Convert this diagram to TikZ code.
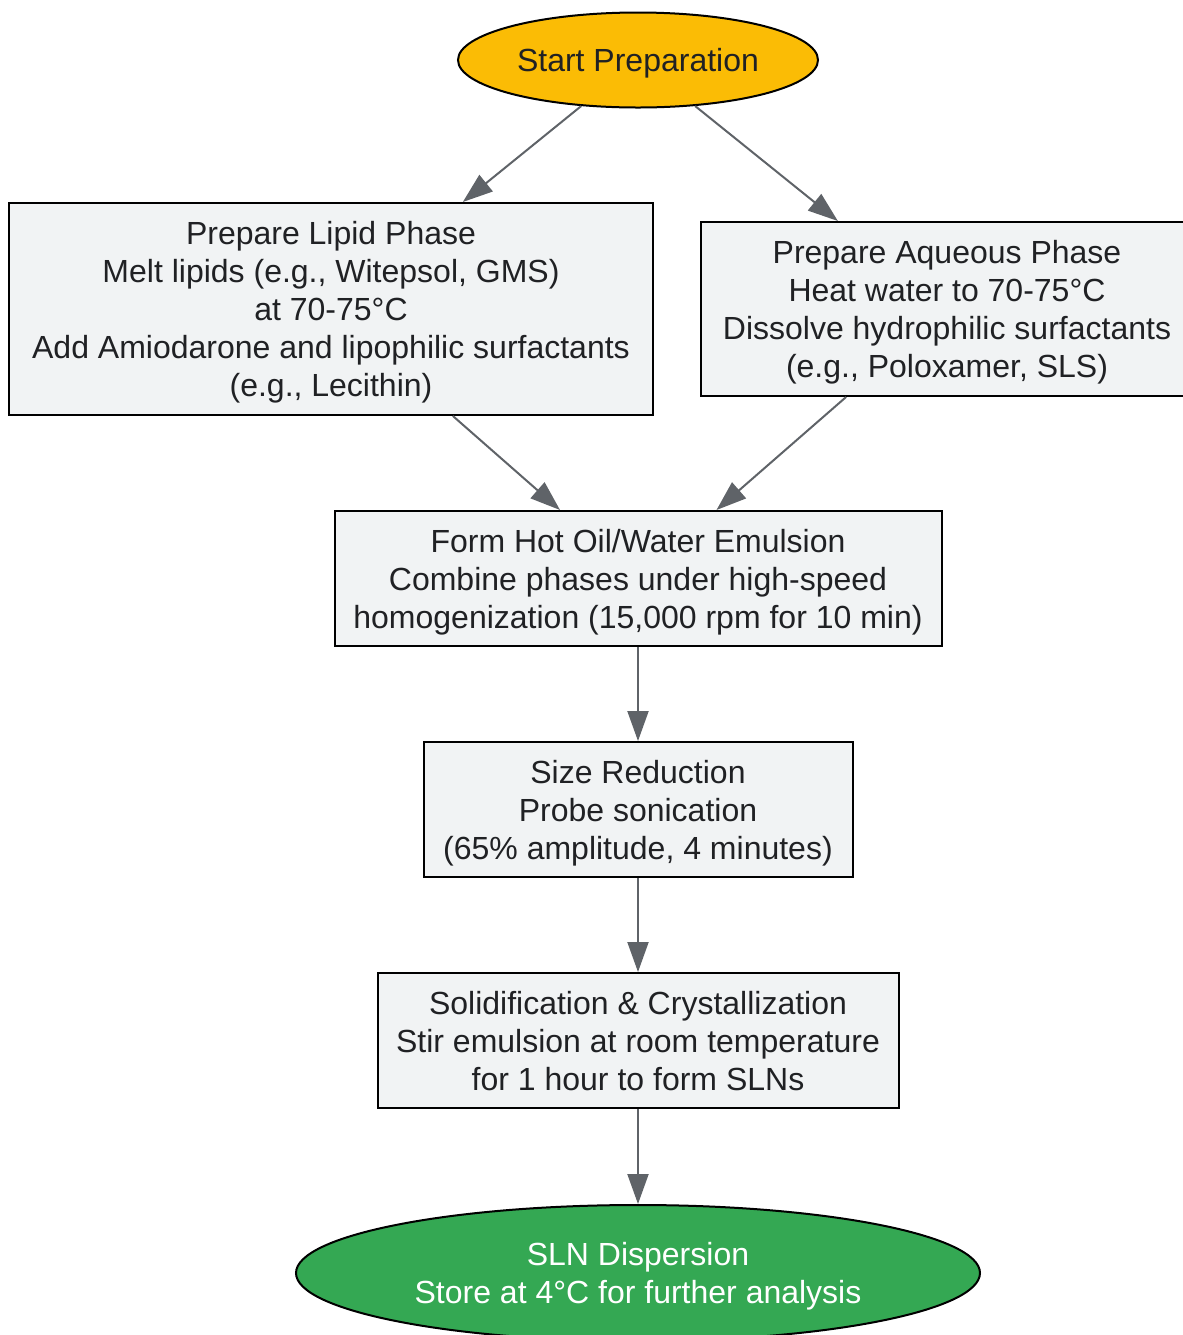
\documentclass[tikz,border=0pt]{standalone}
\usepackage{fontspec}
\setmainfont{Liberation Sans}
\usetikzlibrary{shapes.geometric,arrows.meta}
\definecolor{startyellow}{HTML}{FBBC05}
\definecolor{endgreen}{HTML}{34A853}
\definecolor{boxgrey}{HTML}{F1F3F4}
\definecolor{inkdark}{HTML}{202124}
\definecolor{edgegrey}{HTML}{5F6368}
% centred lines, box made a little taller at the top
\newcommand{\stagetext}[1]{\raisebox{0pt}[\dimexpr\height+4pt\relax][\depth]{%
    \begin{tabular}{@{}c@{}}#1\end{tabular}}}

\begin{document}
\begin{tikzpicture}[x=0.5pt,y=-0.5pt,font=\fontsize{16}{19}\selectfont,
stage/.style={rectangle, draw=black, line width=1pt, fill=boxgrey, text=inkdark,
    inner sep=0pt},
endpoint/.style={ellipse, draw=black, line width=1pt, inner sep=0pt},
link/.style={draw=edgegrey, line width=1pt, -{Triangle[length=15pt,width=10.5pt]}}]
\useasboundingbox (0,0) rectangle (1183,1335);
\node[endpoint, fill=startyellow, text=inkdark, minimum width=180pt, minimum height=47.5pt]
    (start) at (638,60) {\stagetext{Start Preparation}};
\node[stage, minimum width=322pt, minimum height=106pt] (lipid) at (331,309)
    {\stagetext{Prepare Lipid Phase\\Melt lipids (e.g., Witepsol, GMS)\\at 70-75°C\\Add Amiodarone and lipophilic surfactants\\(e.g., Lecithin)}};
\node[stage, minimum width=246pt, minimum height=87pt] (aqueous) at (947,309)
    {\stagetext{Prepare Aqueous Phase\\Heat water to 70-75°C\\Dissolve hydrophilic surfactants\\(e.g., Poloxamer, SLS)}};
\node[stage, minimum width=303.5pt, minimum height=67.5pt] (emulsion) at (638,578.5)
    {\stagetext{Form Hot Oil/Water Emulsion\\Combine phases under high-speed\\homogenization (15,000 rpm for 10 min)}};
\node[stage, minimum width=214.5pt, minimum height=67.5pt] (sizered) at (638,809.5)
    {\stagetext{Size Reduction\\Probe sonication\\(65\% amplitude, 4 minutes)}};
\node[stage, minimum width=260.5pt, minimum height=67.5pt] (solid) at (638,1040.5)
    {\stagetext{Solidification \& Crystallization\\Stir emulsion at room temperature\\for 1 hour to form SLNs}};
\node[endpoint, fill=endgreen, text=white, minimum width=342pt, minimum height=68pt]
    (sln) at (638,1273) {\stagetext{SLN Dispersion\\Store at 4°C for further analysis}};
% edges
\draw[link] (start) -- (lipid);
\draw[link] (start) -- (aqueous);
\draw[link] (lipid) -- (emulsion);
\draw[link] (aqueous) -- (emulsion);
\draw[link] (emulsion) -- (sizered);
\draw[link] (sizered) -- (solid);
\draw[link] (solid) -- (sln);
\end{tikzpicture}
\end{document}
